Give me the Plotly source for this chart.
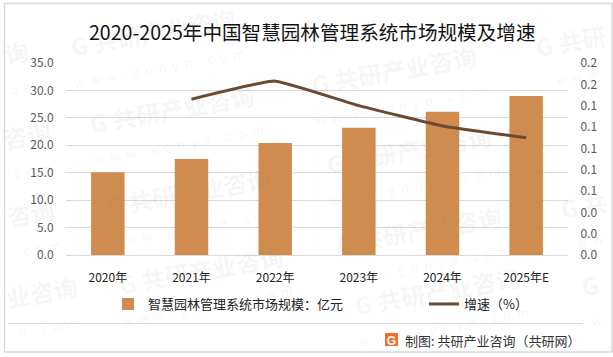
import plotly.graph_objects as go

categories = ["2020年", "2021年", "2022年", "2023年", "2024年", "2025年E"]
market_size = [15.1, 17.5, 20.4, 23.2, 26.1, 29.0]
growth = [None, 0.146, 0.163, 0.140, 0.121, 0.110]

W, H = 613, 357
L, R, T, B = 66, 568, 63, 255
FONT = "Noto Sans CJK SC"
def px(x): return (x - L) / (R - L)
def py(y): return (B - y) / (B - T)

fig = go.Figure()
fig.add_bar(x=categories, y=market_size, name="智慧园林管理系统市场规模：亿元",
            marker=dict(color="#D08C4F", line_width=0), width=0.4, legend="legend")
fig.add_scatter(x=categories, y=growth, name="增速（%）", yaxis="y2", mode="lines", legend="legend2",
                line=dict(color="#6B4A34", width=3, shape="spline", smoothing=0.35))

FULL = "G 共研产业咨询"
WWW = "w  w  w  .  g  o  n  y  n  .  c  o  m"
wm = [(155, 45, FULL, WWW), (174, 122, FULL, WWW), (396, 83, FULL, WWW), (203, 283, FULL, WWW),
      (421, 243, FULL, WWW), (439, 304, FULL, WWW), (411, 163, FULL, WWW), (190, 205, FULL, WWW),
      (19, 65, "询", "o  m"), (29, 148, "咨询", "c  o  m"), (33, 226, "咨询", ".  c  o  m"),
      (44, 305, "业咨询", "n  .  c  o  m"),
      (573, 55, "G 共研", "w  w  w"), (586, 218, "G 共", "w  w"), (592, 298, "G", "w")]
annotations = [dict(x=px(x), y=py(y), xref="paper", yref="paper", showarrow=False,
                    xanchor="center", yanchor="middle", textangle=-10,
                    text=f"<b>{head}</b><br><span style='font-size:13px'>{tail}</span>" if tail else f"<b>{head}</b>",
                    font=dict(family=FONT, size=24, color="rgba(120,120,120,0.08)"))
               for x, y, head, tail in wm]
annotations += [
    dict(x=px(312), y=py(31.5), xref="paper", yref="paper", showarrow=False, xanchor="center", yanchor="middle",
         text="2020-2025年中国智慧园林管理系统市场规模及增速",
         font=dict(family=FONT, size=19.6, color="#111111")),
    dict(x=px(403), y=py(340), xref="paper", yref="paper", showarrow=False, xanchor="left", yanchor="middle",
         text="制图: 共研产业咨询（共研网）", font=dict(family=FONT, size=13, color="#333333")),
]
shapes = [
    dict(type="rect", xref="paper", yref="paper", x0=px(4.5), x1=px(612), y0=py(3.5), y1=py(352),
         line=dict(color="#D9D9D9", width=1.5), layer="below"),
    dict(type="line", xref="paper", yref="paper", x0=px(8), x1=px(583), y0=py(323.5), y1=py(323.5),
         line=dict(color="#D9D9D9", width=1)),
    dict(type="rect", xref="paper", yref="paper", x0=px(385), x1=px(398), y0=py(333), y1=py(346),
         fillcolor="#F0702A", line_width=0, layer="below",
         label=dict(text="<b>G</b>", font=dict(family="Liberation Sans", size=12, color="white"),
                    textposition="middle center")),
]

leg_font = dict(family=FONT, size=13, color="#222222")
fig.update_layout(
    width=W, height=H, margin=dict(l=L, r=W - R, t=T, b=H - B, autoexpand=False),
    paper_bgcolor="white", plot_bgcolor="white",
    font=dict(family=FONT, size=12, color="#595959"),
    showlegend=True,
    legend=dict(x=px(108), y=py(304), yanchor="middle", xanchor="left", font=leg_font, bgcolor="rgba(0,0,0,0)"),
    legend2=dict(x=px(424), y=py(304), yanchor="middle", xanchor="left", font=leg_font, bgcolor="rgba(0,0,0,0)"),
    xaxis=dict(type="category", categoryorder="array", categoryarray=categories,
               showline=True, linecolor="#D9D9D9", showgrid=False, ticks="outside", ticklen=12,
               tickcolor="rgba(0,0,0,0)", tickfont=dict(family=FONT, size=12, color="#222222")),
    yaxis=dict(range=[0, 35], dtick=5, tickformat=".1f", gridcolor="#D9D9D9", gridwidth=1,
               zeroline=False, ticks="outside", ticklen=9, tickcolor="rgba(0,0,0,0)"),
    yaxis2=dict(range=[0, 0.18], dtick=0.02, tickformat=".1f", overlaying="y", side="right",
                showgrid=False, zeroline=False, ticks="outside", ticklen=9, tickcolor="rgba(0,0,0,0)"),
    annotations=annotations, shapes=shapes,
)
fig.write_html("out.html", config={"displayModeBar": False},
               post_script="document.body.style.margin='0';document.body.style.overflow='hidden';")
